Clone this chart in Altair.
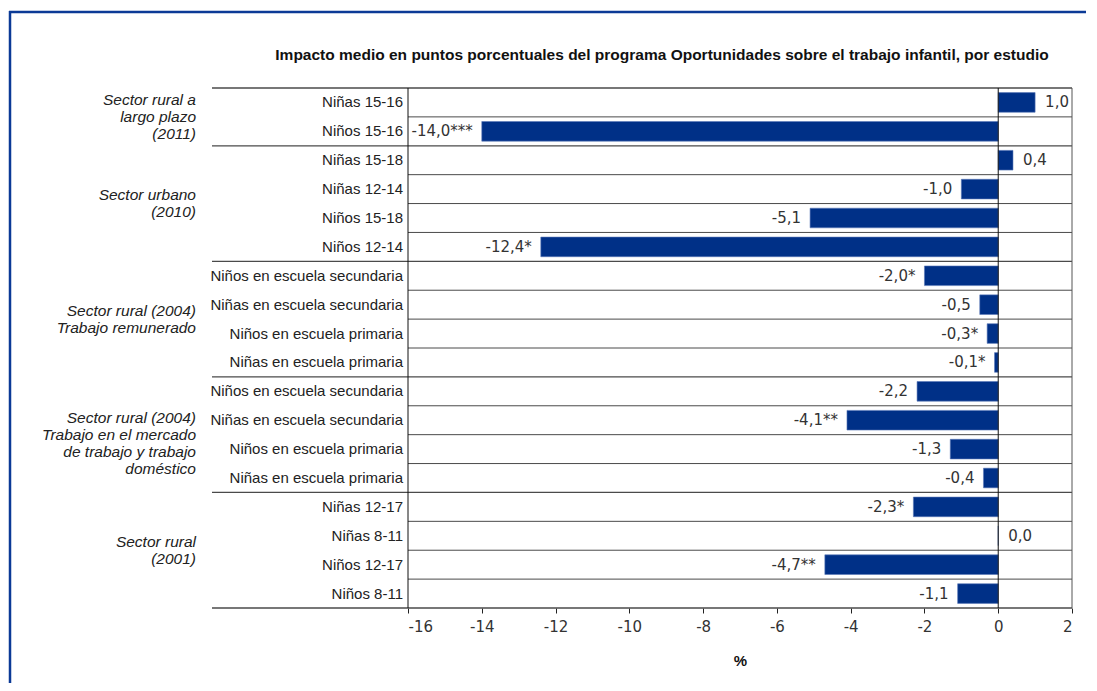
import altair as alt
import pandas as pd

title_text = "Impacto medio en puntos porcentuales del programa Oportunidades sobre el trabajo infantil, por estudio"

rows = [
    "Niñas 15-16", "Niños 15-16",
    "Niñas 15-18", "Niñas 12-14", "Niños 15-18", "Niños 12-14",
    "Niños en escuela secundaria", "Niñas en escuela secundaria",
    "Niños en escuela primaria", "Niñas en escuela primaria",
    "Niños en escuela secundaria", "Niñas en escuela secundaria",
    "Niños en escuela primaria", "Niñas en escuela primaria",
    "Niñas 12-17", "Niñas 8-11", "Niños 12-17", "Niños 8-11",
]
values = [1.0, -14.0, 0.4, -1.0, -5.1, -12.4, -2.0, -0.5, -0.3, -0.1,
          -2.2, -4.1, -1.3, -0.4, -2.3, 0.0, -4.7, -1.1]
stars = ["", "***", "", "", "", "*", "*", "", "*", "*",
         "", "**", "", "", "*", "", "**", ""]

group_names = [
    "Sector rural a\nlargo plazo\n(2011)",
    "Sector urbano\n(2010)",
    "Sector rural (2004)\nTrabajo remunerado",
    "Sector rural (2004)\nTrabajo en el mercado\nde trabajo y trabajo\ndoméstico",
    "Sector rural\n(2001)",
]
group_sizes = [2, 4, 4, 4, 4]

x_ticks = [-16, -14, -12, -10, -8, -6, -4, -2, 0, 2]

FONT = "Liberation Sans"
NUMFONT = "DejaVu Sans"
BAR = "#003087"
FRAME = "#0b3a96"
LINE = "#4a4a4a"

W, H = 664, 520
LH = 17  # line height of group labels

df = pd.DataFrame({
    "idx": list(range(len(rows))),
    "row": rows,
    "value": values,
    "stars": stars,
})
df["label"] = [f"{v:.1f}".replace(".", ",") + s for v, s in zip(values, stars)]

# group boundaries & centres
bounds = [-0.5]
centres = []
start = 0
for n in group_sizes:
    centres.append(start + (n - 1) / 2)
    start += n
    bounds.append(start - 0.5)
gdf = pd.DataFrame({"name": group_names, "centre": centres,
                    "nlines": [g.count("\n") + 1 for g in group_names]})
gbounds = pd.DataFrame({"b": bounds})
row_bounds = pd.DataFrame({"b": [i + 0.5 for i in range(len(rows) - 1) if (i + 0.5) not in bounds]})

xscale = alt.Scale(domain=[x_ticks[0], x_ticks[-1]], nice=False, zero=False)
yscale = alt.Scale(domain=[-0.5, len(rows) - 0.5], nice=False, zero=False, reverse=True)

xaxis = alt.Axis(values=x_ticks, domain=False, grid=False, ticks=True, tickSize=5,
                 tickColor="#222", labelFont=NUMFONT, labelFontSize=15, labelColor="#333",
                 labelPadding=6, labelExpr="datum.value + ''",
                 title="%", titleFont=FONT, titleFontSize=15,
                 titleFontWeight="bold", titleColor="#111", titleBaseline="middle",
                 titleY=52)

bars = alt.Chart(df).transform_calculate(
    lo="datum.idx - 0.34", hi="datum.idx + 0.34", zero="0"
).mark_bar(color=BAR, stroke="#5a78b8", strokeWidth=0.6).encode(
    x=alt.X("value:Q", scale=xscale, axis=xaxis),
    x2="zero:Q",
    y=alt.Y("lo:Q", scale=yscale, axis=None),
    y2="hi:Q",
)

pos_labels = alt.Chart(df).transform_filter("datum.value >= 0").mark_text(
    align="left", baseline="middle", dx=10, font=NUMFONT, fontSize=15, color="#333"
).encode(x="value:Q", y=alt.Y("idx:Q", scale=yscale, axis=None), text="label:N")

neg_labels = alt.Chart(df).transform_filter("datum.value < 0").mark_text(
    align="right", baseline="middle", dx=-9, font=NUMFONT, fontSize=15, color="#333"
).encode(x="value:Q", y=alt.Y("idx:Q", scale=yscale, axis=None), text="label:N")

row_labels = alt.Chart(df).mark_text(
    align="right", baseline="middle", font=FONT, fontSize=15, color="#222"
).encode(x=alt.value(-5), y=alt.Y("idx:Q", scale=yscale, axis=None), text="row:N")


def group_layer(nl, dy):
    return alt.Chart(gdf).transform_filter(f"datum.nlines == {nl}").mark_text(
        align="right", baseline="middle", font=FONT, fontSize=15.5, fontStyle="italic",
        color="#222", lineBreak="\n", lineHeight=LH, dy=dy
    ).encode(x=alt.value(-212), y=alt.Y("centre:Q", scale=yscale, axis=None), text="name:N")


group_labels = [group_layer(2, -LH / 2), group_layer(3, -LH), group_layer(4, -LH)]

row_rules = alt.Chart(row_bounds).mark_rule(color=LINE, strokeWidth=1).encode(
    y=alt.Y("b:Q", scale=yscale, axis=None), x=alt.value(0), x2=alt.value(W)
)
group_rules = alt.Chart(gbounds).mark_rule(color=LINE, strokeWidth=1.3).encode(
    y=alt.Y("b:Q", scale=yscale, axis=None), x=alt.value(-196), x2=alt.value(W)
)

vlines = pd.DataFrame({"v": [x_ticks[0], 0, x_ticks[-1]],
                       "c": ["#111", "#111", "#555"]})
vrules = alt.Chart(vlines).mark_rule(strokeWidth=1).encode(
    x=alt.X("v:Q", scale=xscale), y=alt.value(0), y2=alt.value(H),
    color=alt.Color("c:N", scale=None)
)

one = pd.DataFrame({"t": [title_text]})
title = alt.Chart(one).mark_text(
    align="center", baseline="middle", font=FONT, fontSize=15.5, fontWeight="bold", color="#111"
).encode(x=alt.value(254), y=alt.value(-33), text="t:N")

frame_left = alt.Chart(one).mark_rule(color=FRAME, strokeWidth=2.5).encode(
    x=alt.value(-398), y=alt.value(-77), y2=alt.value(H + 120)
)
frame_top = alt.Chart(one).mark_rule(color=FRAME, strokeWidth=2.5).encode(
    x=alt.value(-399), x2=alt.value(W + 60), y=alt.value(-76)
)

chart = alt.layer(
    row_rules, group_rules, bars, vrules, pos_labels, neg_labels,
    row_labels, *group_labels, title, frame_left, frame_top
).properties(
    width=W, height=H,
    autosize=alt.AutoSizeParams(type="none"),
    padding={"left": 400, "top": 80, "right": 14, "bottom": 75},
).configure_view(stroke=None)

chart.save("out.html", embed_options={"renderer": "svg", "actions": False})
